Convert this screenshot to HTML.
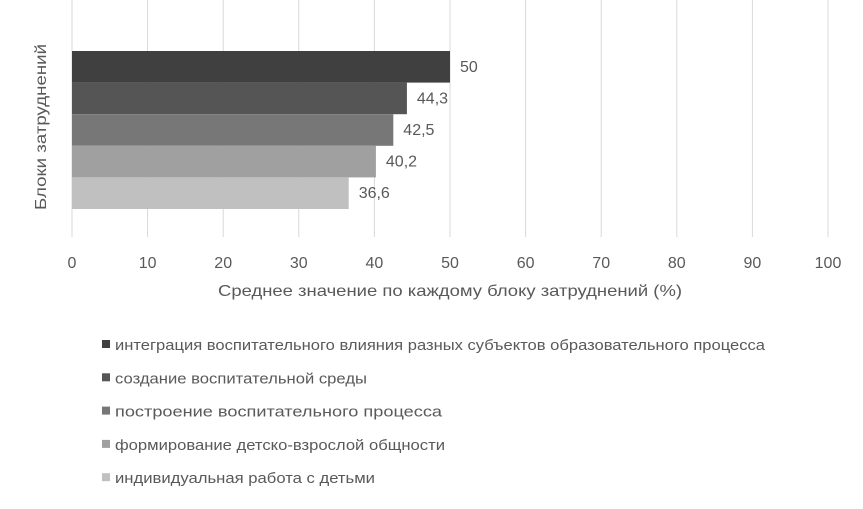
<!DOCTYPE html>
<html><head><meta charset="utf-8"><style>
body{margin:0;background:#fff;width:863px;height:504px;overflow:hidden;font-family:"Liberation Sans","DejaVu Sans",sans-serif;}
svg text{font-family:"Liberation Sans","DejaVu Sans",sans-serif;fill:#595959;}
</style></head><body>
<svg width="863" height="504">
<g id="grid"></g><g id="bars"></g><g id="ticks"></g><g id="legend"></g>
<text transform="translate(46,127) rotate(-90)" text-anchor="middle" font-size="16" textLength="166" lengthAdjust="spacingAndGlyphs">Блоки затруднений</text>
<text x="450" y="296" text-anchor="middle" font-size="16" textLength="464" lengthAdjust="spacingAndGlyphs">Среднее значение по каждому блоку затруднений (%)</text>
</svg>
<script>
const categories=["интеграция воспитательного влияния разных субъектов образовательного процесса","создание воспитательной среды","построение воспитательного процесса","формирование детско-взрослой общности","индивидуальная работа с детьми"];
const values=[50,44.3,42.5,40.2,36.6];
const labels=["50","44,3","42,5","40,2","36,6"];
const ticks=[0,10,20,30,40,50,60,70,80,90,100];
const colors=["#404040","#555555","#777777","#a0a0a0","#c0c0c0"];
const legendLens=[650,252,327,330,260];
const NS="http://www.w3.org/2000/svg";
const x=v=>72+v*7.56;
function mk(t,a,p){const e=document.createElementNS(NS,t);for(const k in a)e.setAttribute(k,a[k]);p.appendChild(e);return e;}
const G=document.getElementById('grid'),B=document.getElementById('bars'),T=document.getElementById('ticks'),L=document.getElementById('legend');
ticks.forEach(t=>{
 const l=mk('line',{x1:x(t),x2:x(t),y1:0,y2:237,stroke:'#d9d9d9','stroke-width':1},G);
 
 
 const tx=mk('text',{x:x(t),y:268,'text-anchor':'middle','font-size':16},T);tx.textContent=t;
 
 
});
const top0=51,bh=31.6;
values.forEach((v,i)=>{
 const y=top0+i*bh;
 const r=mk('rect',{x:x(0),y:y,width:x(v)-x(0),height:bh,fill:colors[i]},B);
 
 
 const t=mk('text',{x:x(v)+10,y:y+bh/2+5,'font-size':16},B);t.textContent=labels[i];
 
 
 const ly=350+i*33.3;
 const sq=mk('rect',{x:102,y:ly-10,width:8,height:8,fill:colors[i]},L);
 
 
 const lt=mk('text',{x:115,y:ly,'font-size':15,fill:'#404040',textLength:legendLens[i],lengthAdjust:'spacingAndGlyphs'},L);lt.textContent=categories[i];
 
 
});
</script>
</body></html>
